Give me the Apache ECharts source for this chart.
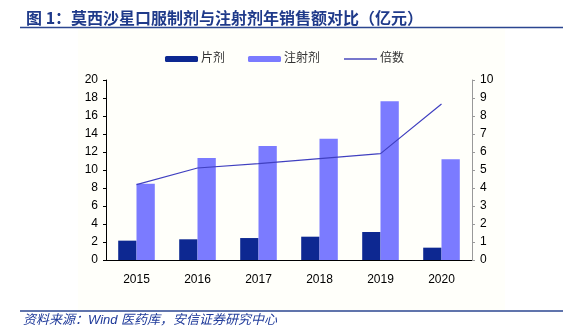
<!DOCTYPE html>
<html>
<head>
<meta charset="utf-8">
<script src="https://cdn.jsdelivr.net/npm/echarts@6/dist/echarts.min.js"></script>
<style>html,body{margin:0;padding:0;background:#fff;}#c{width:569px;height:332px;}</style>
</head>
<body>
<div id="c"></div>
<script>
const categories = ['2015', '2016', '2017', '2018', '2019', '2020'];
const tablet = [2.15, 2.3, 2.44, 2.59, 3.11, 1.37];
const injection = [8.48, 11.33, 12.67, 13.48, 17.63, 11.19];
const ratio = [4.19, 5.11, 5.35, 5.63, 5.91, 8.67];
const seriesNames = ['片剂', '注射剂', '倍数'];
const titleText = '图 1：莫西沙星口服制剂与注射剂年销售额对比（亿元）';
const sourceText = '资料来源：Wind 医药库，安信证券研究中心';

const chart = echarts.init(document.getElementById('c'), null, {renderer: 'canvas'});
const numFont = '"Liberation Sans", Arial, sans-serif';
const cjkFont = '"Liberation Sans", "Noto Sans CJK SC", sans-serif';
chart.setOption({
  animation: false,
  backgroundColor: '#ffffff',
  title: {
    text: titleText,
    left: 21, top: 5,
    textStyle: {fontSize: 16, fontWeight: 'bold', color: '#1f3a8a', fontFamily: '"Noto Sans CJK SC", sans-serif'}
  },
  graphic: [
    {type: 'rect', z: -10, silent: true, shape: {x: 78, y: 28, width: 427, height: 282}, style: {fill: '#fffffa'}},
    {type: 'line', shape: {x1: 20, y1: 27.5, x2: 563, y2: 27.5}, style: {stroke: '#2b4690', lineWidth: 1.5}},
    {type: 'line', shape: {x1: 20, y1: 311, x2: 563, y2: 311}, style: {stroke: '#2b4690', lineWidth: 1.5}},
    {type: 'text', left: 23, top: 314, style: {text: sourceText, fill: '#1f3a9a', font: 'italic 13px "Liberation Sans", "Noto Sans CJK SC", sans-serif'}}
  ],
  legend: {
    top: 48, left: 'center',
    itemWidth: 33, itemHeight: 6, itemGap: 23,
    textStyle: {fontSize: 12, color: '#333', fontFamily: cjkFont, padding: [0,0,0,-2]},
    data: [
      {name: seriesNames[0], itemStyle: {color: '#0d2891'}},
      {name: seriesNames[1], itemStyle: {color: '#7b7bff'}},
      {name: seriesNames[2], lineStyle: {color: '#7777cc', width: 2}, itemStyle: {opacity: 0}}
    ]
  },
  grid: {left: 106, right: 97, top: 80, bottom: 72, containLabel: false},
  xAxis: {
    type: 'category', data: categories,
    axisLine: {lineStyle: {color: '#000', width: 1}},
    axisTick: {inside: true, length: 4, lineStyle: {color: '#000'}},
    axisLabel: {fontSize: 12, color: '#000', fontFamily: numFont, margin: 14}
  },
  yAxis: [
    {
      type: 'value', min: 0, max: 20, interval: 2,
      axisLine: {show: true, lineStyle: {color: '#000'}},
      axisTick: {show: true, length: 3, lineStyle: {color: '#000'}},
      axisLabel: {fontSize: 12, color: '#000', fontFamily: numFont, margin: 8},
      splitLine: {show: false}
    },
    {
      type: 'value', min: 0, max: 10, interval: 1, position: 'right',
      axisLine: {show: true, lineStyle: {color: '#999'}},
      axisTick: {show: true, length: 3, lineStyle: {color: '#999'}},
      axisLabel: {fontSize: 12, color: '#000', fontFamily: numFont, margin: 8},
      splitLine: {show: false}
    }
  ],
  series: [
    {name: seriesNames[0], type: 'bar', data: tablet, barGap: '0%', barCategoryGap: '40%', itemStyle: {color: '#0d2891'}},
    {name: seriesNames[1], type: 'bar', data: injection, barGap: '0%', barCategoryGap: '40%', itemStyle: {color: '#7b7bff'}},
    {name: seriesNames[2], type: 'line', yAxisIndex: 1, data: ratio, symbol: 'none', lineStyle: {color: '#4040c0', width: 1.2}, itemStyle: {color: '#4040c0'}}
  ]
});
</script>
</body>
</html>
